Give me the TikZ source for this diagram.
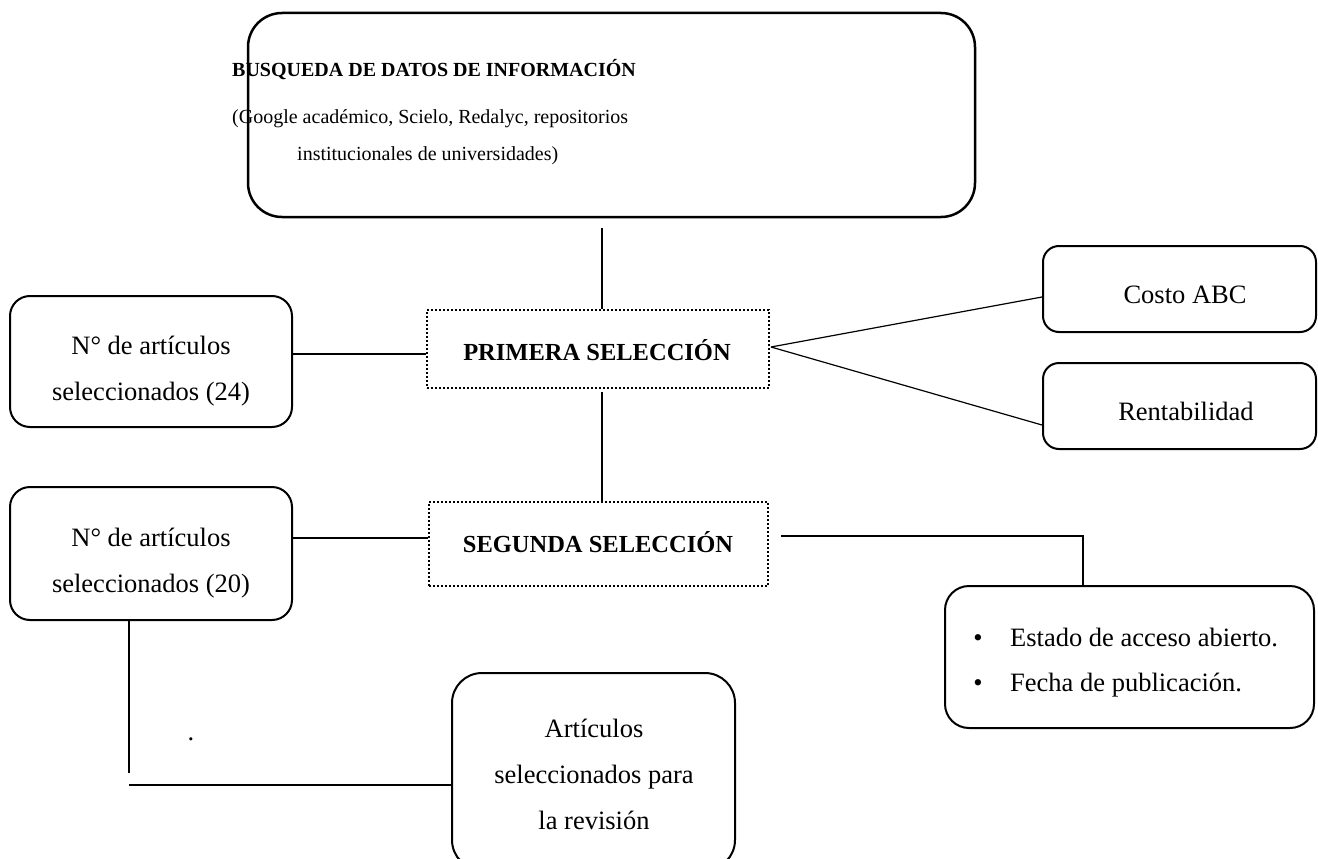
\documentclass[tikz,border=0pt]{standalone}
\usepackage{fontspec}
\setmainfont{Liberation Serif}
\begin{document}
\begin{tikzpicture}[x=1pt,y=-1pt,
  rbox/.style={draw, line width=2pt, rounded corners=20pt, inner sep=0pt},
  dbox/.style={draw, line width=2pt, dash pattern=on 2pt off 2pt, inner sep=0pt},
  conn/.style={draw, line width=1.2pt},
  small/.style={anchor=base west, inner sep=0pt, font=\fontsize{20}{24}\selectfont},
  txt/.style={anchor=base, inner sep=0pt, font=\fontsize{26.5}{30}\selectfont},
  txtl/.style={txt, anchor=base west},
  bold/.style={anchor=base, inner sep=0pt, font=\fontsize{24.5}{30}\selectfont\bfseries}]
\useasboundingbox (0,0) rectangle (1318,859);
\clip (0,0) rectangle (1318,859);
% top box
\node[rbox, line width=2.5pt, rounded corners=34pt, minimum width=727pt, minimum height=204pt] (top) at (611.5,115) {};
\node[small, font=\fontsize{20}{24}\selectfont\bfseries] (t1) at (232,77) {BUSQUEDA DE DATOS DE INFORMACIÓN};
\node[small] (t2) at (232,123) {(Google académico, Scielo, Redalyc, repositorios};
\node[small] (t3) at (297,160) {institucionales de universidades)};

% first row
\node[rbox, minimum width=282pt, minimum height=131pt] (n24) at (151,361.5) {};
\node[txt] (n24a) at (151,354) {N° de artículos};
\node[txt] (n24b) at (151,400) {seleccionados (24)};
\node[dbox, minimum width=342pt, minimum height=78pt] (p1) at (598,349) {};
\node[bold] (p1t) at (597,360) {PRIMERA SELECCIÓN};
\node[rbox, rounded corners=16pt, minimum width=273pt, minimum height=86pt] (costo) at (1179.5,289) {};
\node[txt] (costot) at (1185,303) {Costo ABC};
\node[rbox, rounded corners=16pt, minimum width=273pt, minimum height=86pt] (rent) at (1179.5,406) {};
\node[txt] (rentt) at (1186,420) {Rentabilidad};

% second row
\node[rbox, minimum width=282pt, minimum height=133pt] (n20) at (151,553.5) {};
\node[txt] (n20a) at (151,546) {N° de artículos};
\node[txt] (n20b) at (151,592) {seleccionados (20)};
\node[dbox, minimum width=339pt, minimum height=84pt] (s2) at (598.5,544) {};
\node[bold] (s2t) at (598,552) {SEGUNDA SELECCIÓN};
\node[rbox, rounded corners=24pt, minimum width=369pt, minimum height=142pt] (bul) at (1129.5,657) {};
\node[txt] (b1) at (978,646) {•};
\node[txtl] (l1) at (1010,646) {Estado de acceso abierto.};
\node[txt] (b2) at (978,691) {•};
\node[txtl] (l2) at (1010,691) {Fecha de publicación.};

% bottom
\node[rbox, rounded corners=30pt, minimum width=283pt, minimum height=197pt] (art) at (593.5,771.5) {};
\node[txt] (arta) at (594,737) {Artículos};
\node[txt] (artb) at (594,783) {seleccionados para};
\node[txt] (artc) at (594,829) {la revisión};
\node[txt] (dot) at (191,740) {.};

% connectors
\draw[conn] ([xshift=4pt]p1.north) -- ++(0,-81);
\draw[conn] ([yshift=-5pt]p1.west) -- ([yshift=-5pt]p1.west -| n24.east);
\draw[conn] ([xshift=3.5pt]s2.north) -- ++(0,-109);
\draw[conn] ([xshift=1pt,yshift=2pt]p1.east) -- ([yshift=-8pt]costo.west);
\draw[conn] ([xshift=1pt,yshift=2pt]p1.east) -- ([yshift=-19pt]rent.west);
\draw[conn] ([yshift=6pt]s2.west) -- ([yshift=6pt]s2.west -| n20.east);
\coordinate (k) at (1083,536);
\draw[conn] ([xshift=12pt,yshift=8pt]s2.east) -| (k |- bul.north);
\coordinate (b) at (129,785);
\draw[conn] (n20.south -| b) -- ([yshift=12pt]b);
\draw[conn] (b) -- (b -| art.west);
\end{tikzpicture}
\end{document}
